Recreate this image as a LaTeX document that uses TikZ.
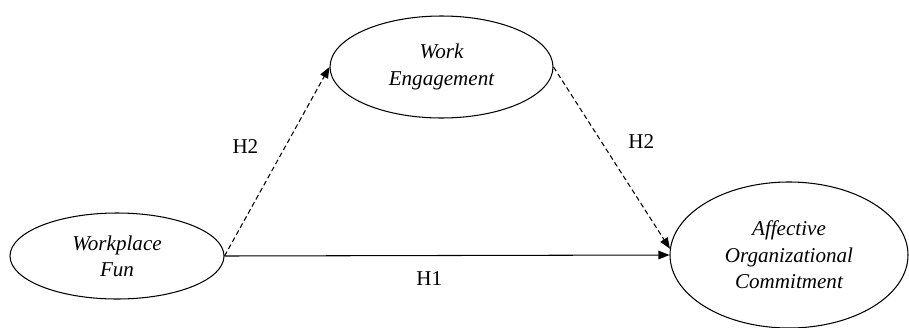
\documentclass[tikz,border=0pt]{standalone}
\usepackage{fontspec}
\setmainfont{Liberation Serif}
\usetikzlibrary{shapes.geometric,arrows.meta}

\tikzset{
	construct/.style={draw,ellipse,inner sep=0pt,align=center,line width=0.6pt,
		font=\itshape\fontsize{12}{15}\selectfont},
	path/.style={line width=0.6pt,-{Triangle[length=2.2mm,width=1.7mm]}},
	hyp/.style={font=\fontsize{12}{14}\selectfont}
}

\begin{document}
\begin{tikzpicture}
	\useasboundingbox (0,0) rectangle (18.18,6.54);
	\node[construct,minimum width=4.28cm,minimum height=1.72cm] (fun) at (2.34,1.42) {Workplace\\Fun};
	\node[construct,minimum width=4.46cm,minimum height=2.04cm] (eng) at (8.83,5.2) {Work\\Engagement};
	\node[construct,minimum width=4.76cm,minimum height=2.92cm] (aoc) at (15.78,1.44) {Affective\\Organizational\\Commitment};
	
	\draw[path] (fun.east) -- node[hyp,pos=0.46,yshift=-0.46cm] {H1} (aoc.west);
	\draw[path,dash pattern=on 2.8pt off 1.8pt] (fun.east) -- node[hyp,pos=0.58,xshift=-0.8cm] {H2} (eng.west);
	\draw[path,dash pattern=on 2.8pt off 1.8pt] (eng.east) -- node[hyp,pos=0.41,xshift=0.8cm] {H2} (aoc.177);
\end{tikzpicture}
\end{document}
